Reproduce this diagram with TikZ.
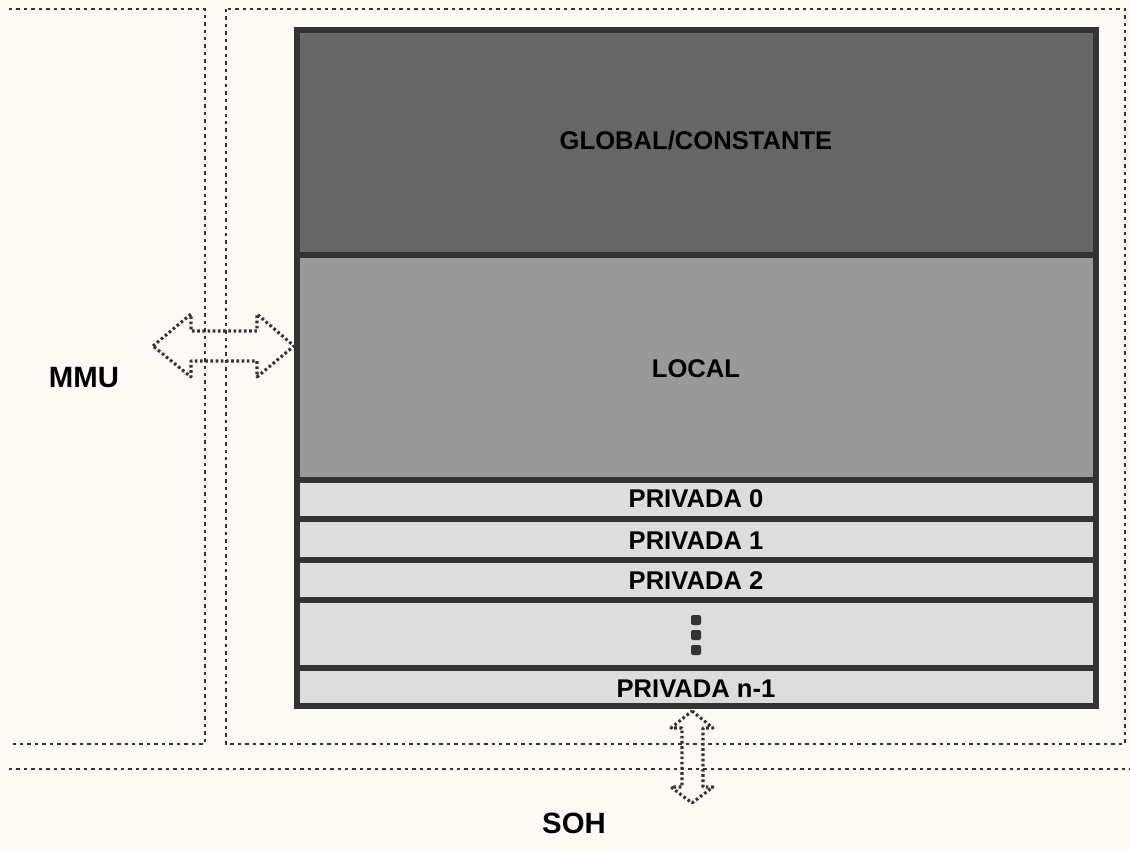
\documentclass[tikz,border=0pt]{standalone}
\usepackage{fontspec}
\setmainfont{Liberation Sans}
\definecolor{paper}{HTML}{FEFAF6}
\definecolor{edge}{HTML}{333333}
\definecolor{globalgray}{HTML}{666666}
\definecolor{localgray}{HTML}{999999}
\definecolor{privgray}{HTML}{DDDDDD}
\begin{document}
\begin{tikzpicture}[x=0.75pt,y=-0.75pt,
  region/.style={draw=edge, line width=1.1pt, dash pattern=on 2.6pt off 3pt},
  memblock/.style={draw=edge, line width=4.2pt},
  blocklabel/.style={font=\bfseries\fontsize{19.2}{21}\selectfont, text=black, anchor=base, inner sep=0pt},
  sidelabel/.style={font=\bfseries\fontsize{22}{24}\selectfont, text=black, anchor=base, inner sep=0pt},
  busarrow/.style={draw=edge, line width=2.3pt, dash pattern=on 2pt off 1.9pt, line join=round},
  dotmark/.style={fill=edge, rounded corners=1.5pt}]

  % page
  \fill[paper] (0,0) rectangle (1130,852);
  \useasboundingbox (0,0) rectangle (1130,852);

  % MMU, device and SOH regions
  \draw[region] (9,9) -- (205,9) -- (205,744) -- (9,744);
  \draw[region] (226,9) rectangle (1125,744);
  \draw[region] (9,769) -- (1130,769);

  % memory spaces
  \draw[memblock, fill=globalgray] (297,30) rectangle (1096,255);
  \draw[memblock, fill=localgray]  (297,255) rectangle (1096,480);
  \draw[memblock, fill=privgray]   (297,480) rectangle (1096,519);
  \draw[memblock, fill=privgray]   (297,519) rectangle (1096,560);
  \draw[memblock, fill=privgray]   (297,560) rectangle (1096,600);
  \draw[memblock, fill=privgray]   (297,600) rectangle (1096,668);
  \draw[memblock, fill=privgray]   (297,668) rectangle (1096,706);

  \node[blocklabel] (global) at (696,150) {GLOBAL/CONSTANTE};
  \node[blocklabel] (local)  at (696,377) {LOCAL};
  \node[blocklabel] (priv0)  at (696,507) {PRIVADA 0};
  \node[blocklabel] (priv1)  at (696,549) {PRIVADA 1};
  \node[blocklabel] (priv2)  at (696,589) {PRIVADA 2};
  \node[blocklabel] (privn)  at (696,697) {PRIVADA n-1};

  % vertical ellipsis
  \foreach \yy in {620,635,650}
    \fill[dotmark] (691,\yy-5) rectangle (701,\yy+5);

  \node[sidelabel] (mmu) at (84,387) {MMU};
  \node[sidelabel] (soh) at (574,833) {SOH};

  % MMU <-> memory
  \draw[busarrow] (153,346) -- (191,314) -- (191,331) -- (257,331) -- (257,314)
    -- (294,346) -- (257,377) -- (257,361) -- (191,361) -- (191,377) -- cycle;

  % memory <-> SOH
  \draw[busarrow] (692,711) -- (713,728) -- (703,728) -- (703,787) -- (713,787)
    -- (692,803) -- (671,787) -- (682,787) -- (682,728) -- (671,728) -- cycle;
\end{tikzpicture}
\end{document}
